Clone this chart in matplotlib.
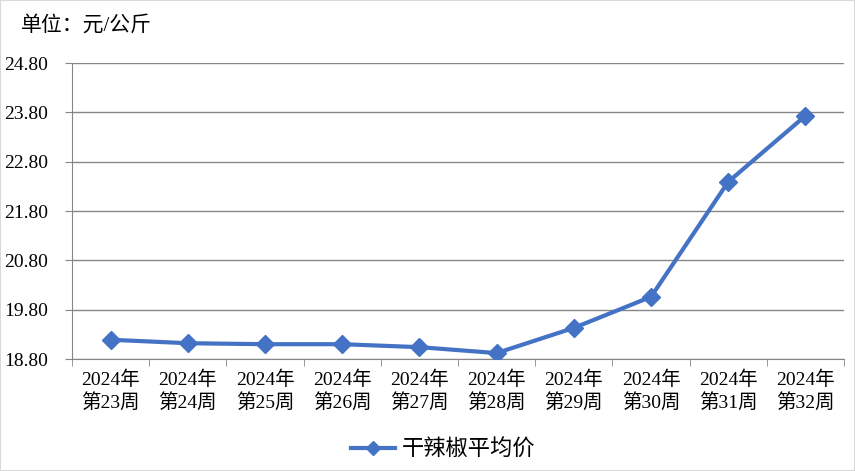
import numpy as np
import matplotlib.pyplot as plt
from matplotlib.ticker import FixedLocator, NullFormatter

plt.rcParams['font.family'] = ['Liberation Serif', 'Noto Sans CJK SC']

# --- DATA ---
weeks = ["2024年\n第23周", "2024年\n第24周", "2024年\n第25周", "2024年\n第26周", "2024年\n第27周",
         "2024年\n第28周", "2024年\n第29周", "2024年\n第30周", "2024年\n第31周", "2024年\n第32周"]
price = [19.19, 19.12, 19.10, 19.10, 19.04, 18.92, 19.43, 20.06, 22.39, 23.73]
yticks = [18.80, 19.80, 20.80, 21.80, 22.80, 23.80, 24.80]

grey = '#868686'
blue = '#4472C4'

fig = plt.figure(figsize=(8.55, 4.71), dpi=100)
ax = fig.add_axes([72/855, 1 - 359/471, (844-72)/855, (359-63)/471])

x = np.arange(len(weeks))
ax.plot(x, price, color=blue, lw=3, marker='D', markersize=9, label='干辣椒平均价', zorder=3)

ax.set_xlim(-0.5, len(weeks) - 0.5)
ax.set_ylim(yticks[0], yticks[-1])
ax.set_yticks(yticks)
ax.set_yticklabels([f"{v:.2f}" for v in yticks], fontsize=14)
ax.set_xticks(x)
ax.set_xticklabels(weeks, fontsize=14, linespacing=1.3)
ax.tick_params(axis='x', length=0, pad=8)
ax.xaxis.set_minor_locator(FixedLocator(np.arange(-0.5, len(weeks), 1.0)))
ax.xaxis.set_minor_formatter(NullFormatter())
ax.tick_params(axis='x', which='minor', length=5, color=grey, direction='out')
ax.tick_params(axis='y', length=5, color=grey, direction='out', pad=12)

ax.grid(axis='y', color=grey, lw=1)
for s in ['top', 'right']:
    ax.spines[s].set_visible(False)
for s in ['left', 'bottom']:
    ax.spines[s].set_color(grey)

fig.text(21/855, 1 - 26/471, "单位：元/公斤", fontsize=15, va='center', ha='left')

fig.legend(loc='center', bbox_to_anchor=(443/855, 1 - 450/471), frameon=False,
           fontsize=16, handlelength=2.0, handletextpad=0.3, markerscale=0.8)

# outer border
fig.patches.append(plt.Rectangle((0, 0), 1, 1, transform=fig.transFigure,
                                 fill=False, edgecolor='#D9D9D9', lw=1.5))

fig.savefig("out.png", dpi=100)
